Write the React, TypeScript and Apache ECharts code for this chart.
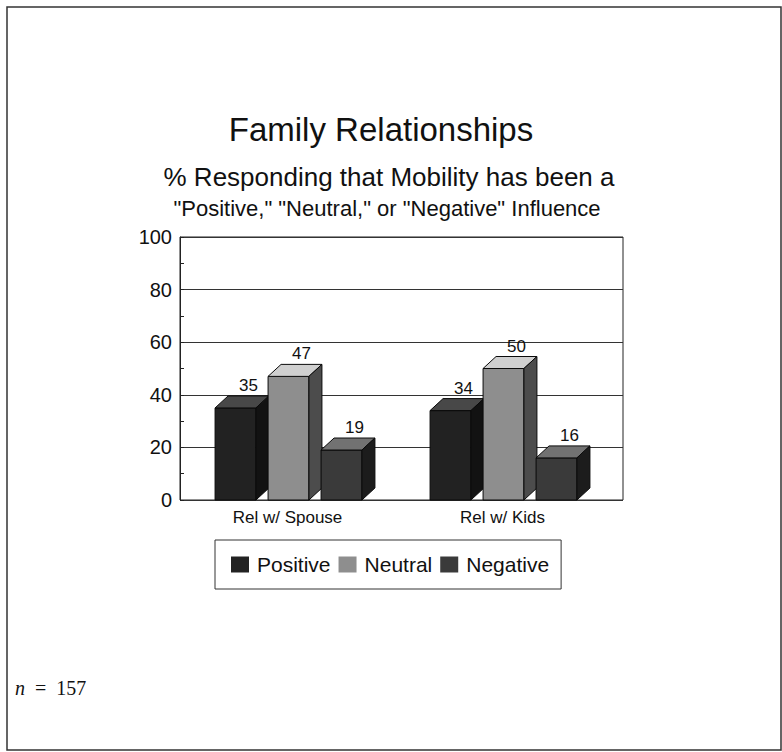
import React, { useEffect, useRef } from "react";
import * as echarts from "echarts";

// Categories along the x axis
const categories = ["Rel w/ Spouse", "Rel w/ Kids"];
// Percent responding for each influence type
const positive = [35, 34];
const neutral = [47, 50];
const negative = [19, 16];
const seriesNames = ["Positive", "Neutral", "Negative"];
const yTicks = [0, 20, 40, 60, 80, 100];

const FONT = "'Liberation Sans', Arial, sans-serif";
const INK = "#111";

// Shading for front / top / side faces of the 3D bars
const faces = [
  { front: "#222222", top: "#484848", side: "#121212" },
  { front: "#8e8e8e", top: "#d0d0d0", side: "#4c4c4c" },
  { front: "#3a3a3a", top: "#727272", side: "#1c1c1c" },
];

const DX = 13;
const DY = 12;

export default function App() {
  const ref = useRef<HTMLDivElement>(null);

  useEffect(() => {
    if (!ref.current) return;
    const chart = echarts.init(ref.current, null, { renderer: "svg" });

    const makeSeries = (name: string, values: number[], idx: number) => ({
      name,
      type: "custom",
      xAxisIndex: 1,
      yAxisIndex: 1,
      itemStyle: { color: faces[idx].front },
      data: values.map((v, i) => [i, v]),
      renderItem: (params: any, api: any) => {
        const cat = api.value(0);
        const val = api.value(1);
        const top = api.coord([cat, val]);
        const base = api.coord([cat, 0]);
        const band = api.size([1, 0])[0];
        const barW = band * 0.19;
        const step = band * 0.2465;
        const cx = top[0] + (idx - 1) * step + 1;
        const x0 = cx - barW / 2;
        const x1 = cx + barW / 2;
        const f = faces[idx];
        const stroke = { stroke: "#0a0a0a", lineWidth: 1 };
        return {
          type: "group",
          children: [
            {
              type: "rect",
              shape: { x: x0, y: top[1], width: barW, height: base[1] - top[1] },
              style: { fill: f.front, ...stroke },
            },
            {
              type: "polygon",
              shape: {
                points: [
                  [x0, top[1]],
                  [x1, top[1]],
                  [x1 + DX, top[1] - DY],
                  [x0 + DX, top[1] - DY],
                ],
              },
              style: { fill: f.top, ...stroke },
            },
            {
              type: "polygon",
              shape: {
                points: [
                  [x1, top[1]],
                  [x1 + DX, top[1] - DY],
                  [x1 + DX, base[1] - DY],
                  [x1, base[1]],
                ],
              },
              style: { fill: f.side, ...stroke },
            },
            {
              type: "text",
              x: cx + DX,
              y: top[1] - DY - 2,
              style: {
                text: String(val),
                textAlign: "center",
                textVerticalAlign: "bottom",
                fontSize: 17,
                fontFamily: FONT,
                fill: INK,
              },
            },
          ],
        };
      },
    });

    chart.setOption({
      animation: false,
      backgroundColor: "#ffffff",
      grid: [
        {
          left: 180,
          top: 237,
          width: 443,
          height: 263,
          show: true,
          borderColor: "#222",
          borderWidth: 1,
          backgroundColor: "transparent",
        },
        { left: 180, top: 237, width: 430, height: 263 },
      ],
      xAxis: [
        { type: "value", gridIndex: 0, show: false, min: 0, max: 1 },
        {
          type: "category",
          gridIndex: 1,
          data: categories,
          axisLine: { show: false },
          axisTick: { show: false },
          axisLabel: { fontSize: 17, fontFamily: FONT, color: INK, margin: 9 },
        },
      ],
      yAxis: [
        {
          type: "value",
          gridIndex: 0,
          min: yTicks[0],
          max: yTicks[yTicks.length - 1],
          interval: 20,
          axisLine: { show: true, lineStyle: { color: "#222", width: 1 } },
          axisTick: { show: true, inside: true, length: 4, lineStyle: { color: "#222" } },
          minorTick: { show: true, splitNumber: 2, length: 4, lineStyle: { color: "#222" } },
          splitLine: { show: true, lineStyle: { color: "#333", width: 1 } },
          axisLabel: { fontSize: 20, fontFamily: FONT, color: INK, margin: 8 },
        },
        { type: "value", gridIndex: 1, min: 0, max: 100, show: false },
      ],
      legend: {
        data: seriesNames,
        left: 215,
        top: 540,
        orient: "horizontal",
        icon: "rect",
        itemWidth: 18,
        itemHeight: 16,
        itemGap: 8,
        padding: [14, 12, 14, 16],
        borderColor: "#333",
        borderWidth: 1,
        textStyle: { fontSize: 21, fontFamily: FONT, color: INK, padding: [0, 0, 0, 3] },
        selectedMode: false,
      },
      series: [
        makeSeries(seriesNames[0], positive, 0),
        makeSeries(seriesNames[1], neutral, 1),
        makeSeries(seriesNames[2], negative, 2),
      ],
      graphic: [
        {
          type: "rect",
          shape: { x: 7, y: 7, width: 774, height: 743 },
          style: { fill: "none", stroke: "#333", lineWidth: 1.5 },
          silent: true,
        },
        {
          type: "text",
          x: 381,
          y: 129,
          style: {
            text: "Family Relationships",
            textAlign: "center",
            textVerticalAlign: "middle",
            fontSize: 33,
            fontFamily: FONT,
            fill: INK,
          },
        },
        {
          type: "text",
          x: 389,
          y: 177,
          style: {
            text: "% Responding that Mobility has been a",
            textAlign: "center",
            textVerticalAlign: "middle",
            fontSize: 26,
            fontFamily: FONT,
            fill: INK,
          },
        },
        {
          type: "text",
          x: 387,
          y: 208,
          style: {
            text: '"Positive," "Neutral," or "Negative" Influence',
            textAlign: "center",
            textVerticalAlign: "middle",
            fontSize: 22,
            fontFamily: FONT,
            fill: INK,
          },
        },
        {
          type: "text",
          x: 15,
          y: 688,
          style: {
            text: "{i|n}  =  157",
            textVerticalAlign: "middle",
            fontSize: 20,
            fontFamily: "'Liberation Serif', 'Times New Roman', serif",
            fill: INK,
            rich: {
              i: {
                fontStyle: "italic",
                fontSize: 20,
                fontFamily: "'Liberation Serif', 'Times New Roman', serif",
                fill: INK,
              },
            },
          },
        },
      ],
    });

    return () => chart.dispose();
  }, []);

  return (
    <div
      ref={ref}
      style={{ position: "fixed", left: 0, top: 0, width: 782, height: 752 }}
    />
  );
}
